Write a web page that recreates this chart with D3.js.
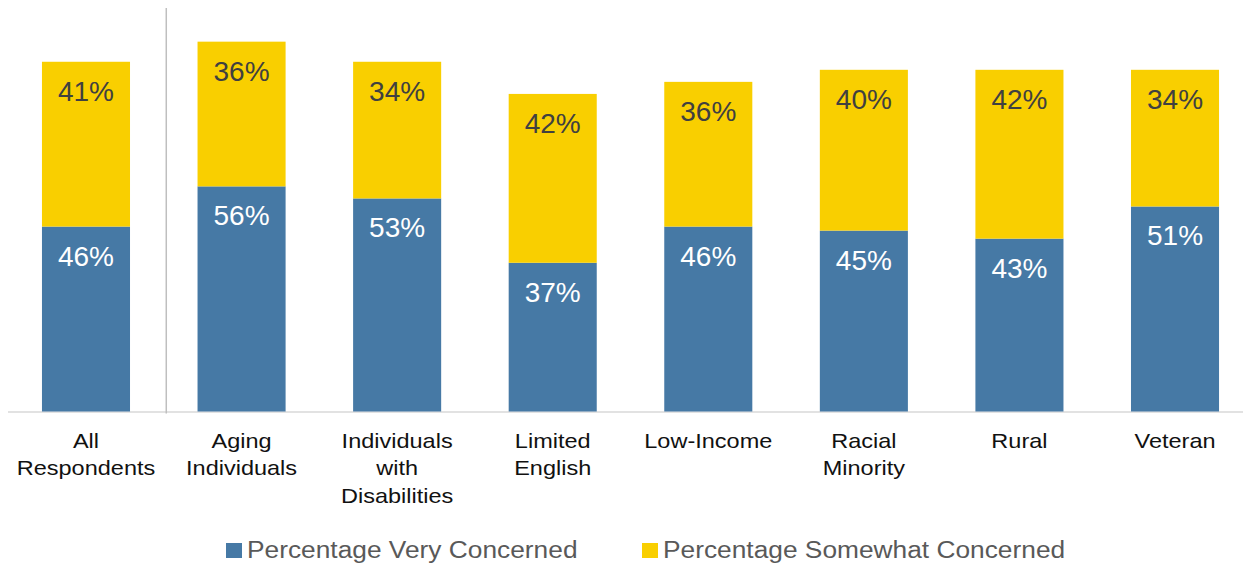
<!DOCTYPE html>
<html><head><meta charset="utf-8">
<script src="https://cdn.jsdelivr.net/npm/d3@7"></script>
<style>html,body{margin:0;padding:0;background:#fff;}svg{display:block;}</style>
</head><body>
<svg id="c" width="1243" height="565"></svg>
<script>
const categories = [["All","Respondents"],["Aging","Individuals"],["Individuals","with","Disabilities"],["Limited","English"],["Low-Income"],["Racial","Minority"],["Rural"],["Veteran"]];
const veryConcerned = [46,56,53,37,46,45,43,51];
const somewhatConcerned = [41,36,34,42,36,40,42,34];
const seriesNames = ["Percentage Very Concerned","Percentage Somewhat Concerned"];
const colors = ["#4679A5","#F9CF00"];
const labelColors = ["#ffffff","#404040"];

const svg = d3.select("#c");
const font = "'Liberation Sans', Arial, sans-serif";
const keys = categories.map((c,i)=>i);
const x = d3.scaleBand().domain(keys).range([8.2,1252.8]).paddingInner(0.434).paddingOuter(0.217);
const y = d3.scaleLinear().domain([0,100]).range([411.5,9.5]);

const rows = keys.map(i=>({i, a: veryConcerned[i], b: somewhatConcerned[i]}));
const stack = d3.stack().keys(["a","b"])(rows);

// baseline axis
svg.append("line").attr("x1",8).attr("x2",1243).attr("y1",y(0)+0.5).attr("y2",y(0)+0.5)
  .attr("stroke","#d9d9d9").attr("stroke-width",1.5);

// bars
stack.forEach((layer,si)=>{
  const g = svg.append("g");
  g.selectAll("rect").data(layer).join("rect")
    .attr("x",d=>x(d.data.i)).attr("width",x.bandwidth())
    .attr("y",d=>y(d[1])).attr("height",d=>y(d[0])-y(d[1]))
    .attr("fill",colors[si]);
  g.selectAll("text").data(layer).join("text")
    .attr("x",d=>x(d.data.i)+x.bandwidth()/2)
    .attr("y",d=>y(d[1])+39)
    .attr("text-anchor","middle").attr("font-family",font).attr("font-size",28)
    .attr("fill",labelColors[si])
    .text(d=>(d[1]-d[0])+"%");
});

// separator after first category
const sepX = x(1) - x.step()*x.paddingInner()/2 + 2.5;
svg.append("line").attr("x1",sepX).attr("x2",sepX).attr("y1",8).attr("y2",y(0)+2)
  .attr("stroke","#bfbfbf").attr("stroke-width",1.5);

// category labels
const cl = svg.append("g");
categories.forEach((lines,i)=>{
  const cx = x(i)+x.bandwidth()/2;
  const t = cl.append("text").attr("transform",`translate(${cx},448) scale(1.12,1)`)
    .attr("text-anchor","middle").attr("font-family",font).attr("font-size",21).attr("fill","#111");
  lines.forEach((ln,k)=>t.append("tspan").attr("x",0).attr("y",k*27.5).text(ln));
});

// legend
const legendPos = [226, 642];
seriesNames.forEach((n,i)=>{
  svg.append("rect").attr("x",legendPos[i]).attr("y",543).attr("width",16).attr("height",15).attr("fill",colors[i]);
  svg.append("text").attr("transform",`translate(${legendPos[i]+21},558) scale(1.12,1)`)
    .attr("font-family",font).attr("font-size",23.5).attr("fill","#595959").text(n);
});
</script>
</body></html>
